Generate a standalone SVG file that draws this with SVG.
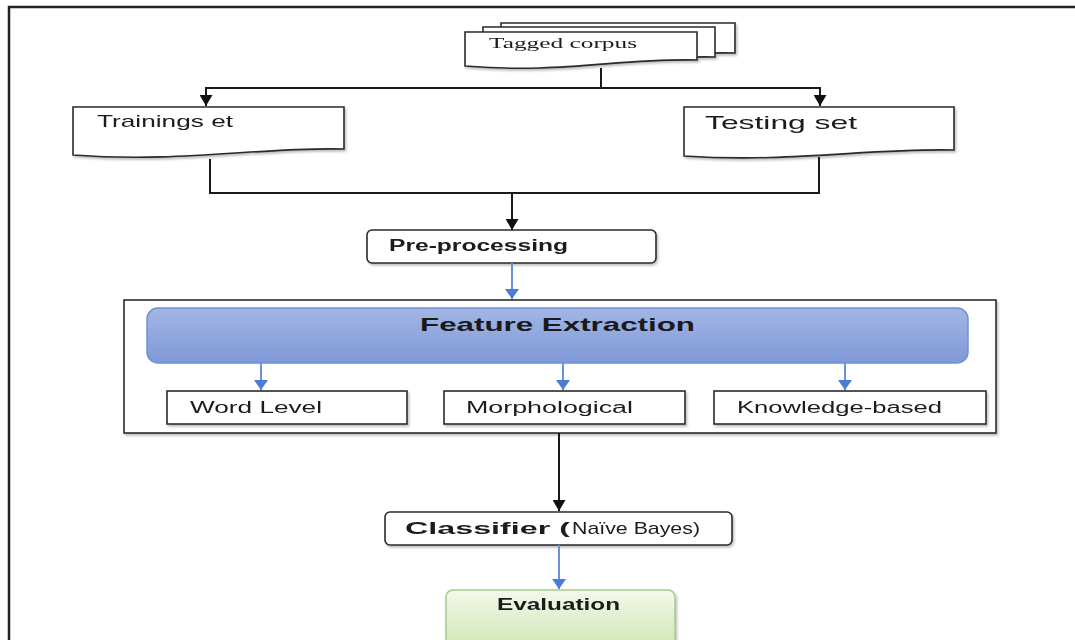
<svg xmlns="http://www.w3.org/2000/svg" width="1075" height="640" viewBox="0 0 1075 640">
<style>
.doc{fill:#fff;stroke:#2a2a2a;stroke-width:1.6}
.box{fill:#fff;stroke:#2a2a2a;stroke-width:1.6}
.lbl{font-family:"Liberation Sans",Arial,sans-serif;fill:#1a1a1a}
.b{font-weight:bold}
.blk{fill:none;stroke:#1a1a1a;stroke-width:2}
.blu{fill:none;stroke:#6a90da;stroke-width:2}
</style>
<defs>
<marker id="ab" viewBox="0 0 10 10" preserveAspectRatio="none" refX="10" refY="5" markerWidth="11" markerHeight="13" markerUnits="userSpaceOnUse" orient="auto"><path d="M0,0 L10,5 L0,10 z" fill="#111"/></marker>
<marker id="au" viewBox="0 0 10 10" preserveAspectRatio="none" refX="10" refY="5" markerWidth="10" markerHeight="14" markerUnits="userSpaceOnUse" orient="auto"><path d="M0,0 L10,5 L0,10 z" fill="#4a7bd8"/></marker>
<linearGradient id="gfe" x1="0" y1="0" x2="0" y2="1"><stop offset="0" stop-color="#a3b6e4"/><stop offset="1" stop-color="#7f98d8"/></linearGradient>
<linearGradient id="gev" x1="0" y1="0" x2="0" y2="1"><stop offset="0" stop-color="#f3f9ea"/><stop offset="1" stop-color="#cfe5b4"/></linearGradient>
<filter id="sh" x="-5%" y="-20%" width="110%" height="150%"><feDropShadow dx="1.5" dy="2" stdDeviation="1.2" flood-color="#000" flood-opacity="0.25"/></filter>
</defs>
<rect width="1075" height="640" fill="#fff"/>
<path d="M9,640 V7 H1075" fill="none" stroke="#222" stroke-width="2.5"/>

<g id="tagged-corpus" filter="url(#sh)">
<path class="doc" d="M501,23 H735 V53 C690,52 660,56 640,56 L501,56 Z"/>
<path class="doc" d="M483,27 H715 V57 C660,56 620,62 580,62 L483,62 Z"/>
<path class="doc" d="M465,32 H697 V60 C620,58 560,74 465,66 Z"/>
<text class="lbl" x="489" y="48" style="font-family:'Liberation Serif','Times New Roman',serif" font-size="15" textLength="148" lengthAdjust="spacingAndGlyphs">Tagged corpus</text>
</g>

<g id="training-set" filter="url(#sh)">
<path class="doc" d="M73,107 H344 V149 C260,147 180,163 73,155 Z"/>
<text class="lbl" x="97" y="127" font-size="17" textLength="136" lengthAdjust="spacingAndGlyphs">Trainings et</text>
</g>

<g id="testing-set" filter="url(#sh)">
<path class="doc" d="M684,107 H954 V150 C870,148 790,163 684,156 Z"/>
<text class="lbl" x="705" y="129" font-size="19" textLength="152" lengthAdjust="spacingAndGlyphs">Testing set</text>
</g>

<g id="pre-processing" filter="url(#sh)">
<rect class="box" x="367" y="230" width="289" height="33" rx="5"/>
<text class="lbl b" x="389" y="251" font-size="16" textLength="179" lengthAdjust="spacingAndGlyphs">Pre-processing</text>
</g>

<g id="feature-group">
<rect x="124" y="300" width="872" height="133" fill="#fff" stroke="#2a2a2a" stroke-width="1.6" filter="url(#sh)"/>
<g id="feature-extraction">
<rect x="147" y="308" width="821" height="55" rx="11" fill="url(#gfe)" stroke="#7091d6" stroke-width="1.5"/>
<text class="lbl b" x="420" y="331" font-size="19" textLength="275" lengthAdjust="spacingAndGlyphs">Feature Extraction</text>
</g>
<g id="word-level" filter="url(#sh)">
<rect class="box" x="167" y="391" width="240" height="33"/>
<text class="lbl" x="190" y="413" font-size="16" textLength="132" lengthAdjust="spacingAndGlyphs">Word Level</text>
</g>
<g id="morphological" filter="url(#sh)">
<rect class="box" x="444" y="391" width="241" height="33"/>
<text class="lbl" x="466" y="413" font-size="16" textLength="167" lengthAdjust="spacingAndGlyphs">Morphological</text>
</g>
<g id="knowledge-based" filter="url(#sh)">
<rect class="box" x="714" y="391" width="272" height="33"/>
<text class="lbl" x="737" y="413" font-size="16" textLength="205" lengthAdjust="spacingAndGlyphs">Knowledge-based</text>
</g>
</g>

<g id="classifier" filter="url(#sh)">
<rect class="box" x="385" y="512" width="347" height="33" rx="5"/>
<text class="lbl" x="405" y="534" font-size="17"><tspan class="b" textLength="165" lengthAdjust="spacingAndGlyphs">Classifier (</tspan><tspan x="572" textLength="128" lengthAdjust="spacingAndGlyphs">Naïve Bayes)</tspan></text>
</g>

<g id="evaluation" filter="url(#sh)">
<rect x="446" y="590" width="229" height="60" rx="7" fill="url(#gev)" stroke="#a6c98a" stroke-width="1.5"/>
<text class="lbl b" x="497" y="610" font-size="16" textLength="123" lengthAdjust="spacingAndGlyphs">Evaluation</text>
</g>

<g id="connectors">
<path class="blk" d="M601,68 V88"/>
<path class="blk" d="M601,88 H206 V106" marker-end="url(#ab)"/>
<path class="blk" d="M601,88 H820 V106" marker-end="url(#ab)"/>
<path class="blk" d="M210,159 V193 H819 V157"/>
<path class="blk" d="M512,193 V230" marker-end="url(#ab)"/>
<path class="blu" d="M512,263 V299" marker-end="url(#au)"/>
<path class="blu" d="M261,363 V390" marker-end="url(#au)"/>
<path class="blu" d="M563,363 V390" marker-end="url(#au)"/>
<path class="blu" d="M845,363 V390" marker-end="url(#au)"/>
<path class="blk" d="M559,433 V511" marker-end="url(#ab)"/>
<path class="blu" d="M559,545 V589" marker-end="url(#au)"/>
</g>
</svg>
